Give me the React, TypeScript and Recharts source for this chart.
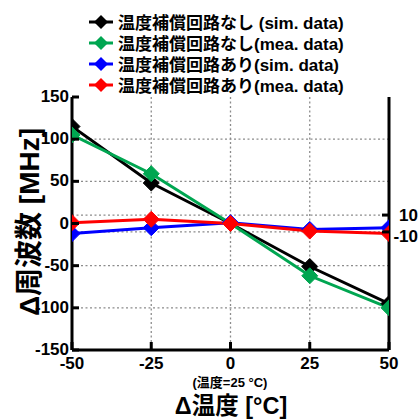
import { CartesianGrid, Legend, Line, LineChart, XAxis, YAxis } from "recharts";

const TEMPS = [-50, -25, 0, 25, 50];
const NASHI_SIM = [115, 48, 0, -51, -95];
const NASHI_MEA = [105, 59, 0, -62, -100];
const ARI_SIM = [-12, -5, 1, -7, -5];
const ARI_MEA = [1, 5, 0, -9, -12];

const X_TICKS = [-50, -25, 0, 25, 50];
const Y_TICKS = [-150, -100, -50, 0, 50, 100, 150];
const RIGHT_TICKS = [-10, 10];

const SERIES = [
  { key: "nashiSim", name: "温度補償回路なし (sim. data)", color: "#000000" },
  { key: "nashiMea", name: "温度補償回路なし(mea. data)", color: "#00a651" },
  { key: "ariSim", name: "温度補償回路あり(sim. data)", color: "#0000ff" },
  { key: "ariMea", name: "温度補償回路あり(mea. data)", color: "#ff0000" },
];

const data = TEMPS.map((t, i) => ({
  t,
  nashiSim: NASHI_SIM[i],
  nashiMea: NASHI_MEA[i],
  ariSim: ARI_SIM[i],
  ariMea: ARI_MEA[i],
}));

const FONT = "'Liberation Sans', Arial, 'Noto Sans CJK JP', sans-serif";

// ひし形マーカー
const Diamond = (color: string) => (props: any) => {
  const { cx, cy } = props;
  if (cx == null || cy == null) return null;
  const r = 8;
  return (
    <polygon
      key={`${cx}-${cy}`}
      points={`${cx},${cy - r} ${cx + r},${cy} ${cx},${cy + r} ${cx - r},${cy}`}
      fill={color}
      stroke={color}
    />
  );
};

const LeftTick = (props: any) => {
  const { x, y, payload } = props;
  return (
    <g>
      <line x1={x} x2={x + 7} y1={y} y2={y} stroke="#000" strokeWidth={3} />
      <text x={x - 3} y={y - 1} dy="0.36em" textAnchor="end" fontSize={17} fontWeight="bold" fontFamily={FONT} fill="#000">
        {payload.value}
      </text>
    </g>
  );
};

const RightTick = (props: any) => {
  const { x, y, payload } = props;
  const off = payload.value < 0 ? 4 : 0;
  return (
    <g>
      <line x1={x - 7} x2={x} y1={y} y2={y} stroke="#000" strokeWidth={3} />
      <text x={418} y={y + off} dy="0.36em" textAnchor="end" fontSize={17} fontWeight="bold" fontFamily={FONT} fill="#000">
        {payload.value}
      </text>
    </g>
  );
};

const BottomTick = (props: any) => {
  const { x, y, payload } = props;
  return (
    <g>
      <line x1={x} x2={x} y1={y} y2={y - 8} stroke="#000" strokeWidth={3} />
      <text x={x} y={y + 19} textAnchor="middle" fontSize={17} fontWeight="bold" fontFamily={FONT} fill="#000">
        {payload.value}
      </text>
    </g>
  );
};

const LegendBox = () => (
  <div style={{ fontFamily: FONT, fontWeight: "bold", fontSize: 17, color: "#000" }}>
    {SERIES.map((s) => (
      <div key={s.key} style={{ display: "flex", alignItems: "center", height: 21 }}>
        <svg width={28} height={20} style={{ marginRight: 3 }}>
          <line x1={2} x2={26} y1={10} y2={10} stroke={s.color} strokeWidth={3} />
          <polygon points="14,3 21,10 14,17 7,10" fill={s.color} />
        </svg>
        <span style={{ whiteSpace: "nowrap" }}>{s.name}</span>
      </div>
    ))}
  </div>
);

export default function App() {
  return (
    <div style={{ position: "absolute", left: 0, top: 0 }}>
      <LineChart width={419} height={419} data={data} margin={{ top: 97, right: 0, bottom: 39, left: 12 }}>
        <CartesianGrid
          horizontalValues={[-100, -50, -10, 10, 50, 100]}
          verticalValues={[-25, 0, 25]}
          stroke="#8c8c8c"
          strokeWidth={1.3}
          strokeDasharray="2 2.5"
        />
        <XAxis
          dataKey="t"
          type="number"
          domain={[-50, 50]}
          ticks={X_TICKS}
          interval={0}
          allowDataOverflow
          height={30}
          tickSize={0}
          tickMargin={0}
          tickLine={false}
          tick={<BottomTick />}
          axisLine={{ stroke: "#000", strokeWidth: 3 }}
          label={{
            content: () => (
              <g fontFamily={FONT} fontWeight="bold" fill="#000">
                <text x={230} y={387} textAnchor="middle" fontSize={13}>
                  (温度=25 °C)
                </text>
                <text x={231} y={414} textAnchor="middle" fontSize={23.5}>
                  Δ温度 [°C]
                </text>
              </g>
            ),
          }}
        />
        <XAxis
          xAxisId="top"
          orientation="top"
          dataKey="t"
          type="number"
          domain={[-50, 50]}
          height={0}
          tick={false}
          tickLine={false}
          axisLine={{ stroke: "#000", strokeWidth: 3 }}
        />
        <YAxis
          domain={[-150, 150]}
          ticks={Y_TICKS}
          interval={0}
          allowDataOverflow
          width={60}
          tickSize={0}
          tickMargin={0}
          tickLine={false}
          tick={<LeftTick />}
          axisLine={{ stroke: "#000", strokeWidth: 3 }}
          label={{
            content: () => (
              <text
                x={29}
                y={222}
                transform="rotate(-90 29 222)"
                textAnchor="middle"
                dy="0.36em"
                fontSize={28}
                fontWeight="bold"
                fontFamily={FONT}
                fill="#000"
              >
                Δ周波数 [MHz]
              </text>
            ),
          }}
        />
        <YAxis
          yAxisId="right"
          orientation="right"
          domain={[-150, 150]}
          ticks={RIGHT_TICKS}
          interval={0}
          allowDataOverflow
          width={30}
          tickSize={0}
          tickMargin={0}
          tickLine={false}
          tick={(p: any) => <RightTick {...p} />}
          axisLine={{ stroke: "#000", strokeWidth: 3 }}
        />
        <Legend
          layout="vertical"
          align="center"
          verticalAlign="middle"
          wrapperStyle={{ top: 11, left: 87, width: 330 }}
          content={() => <LegendBox />}
        />
        {SERIES.map((s) => (
          <Line
            key={s.key}
            dataKey={s.key}
            name={s.name}
            stroke={s.color}
            strokeWidth={3}
            dot={Diamond(s.color)}
            isAnimationActive={false}
          />
        ))}
      </LineChart>
    </div>
  );
}
